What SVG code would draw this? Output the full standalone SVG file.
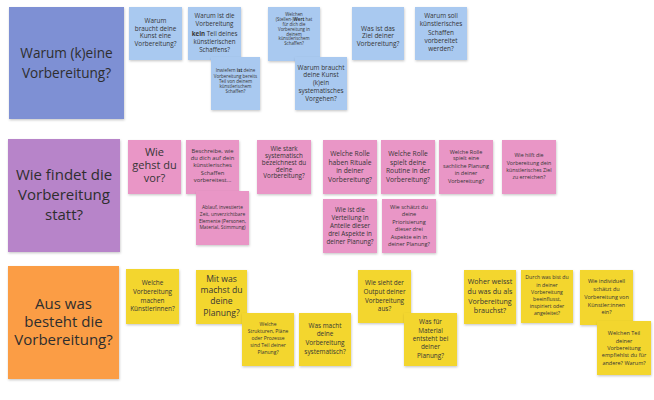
<svg xmlns="http://www.w3.org/2000/svg" width="654" height="400" viewBox="0 0 654 400">
<defs>
<filter id="sh" x="-10%" y="-10%" width="130%" height="130%">
<feDropShadow dx="0.5" dy="1.2" stdDeviation="0.9" flood-color="#000" flood-opacity="0.22"/>
</filter>
<style>
rect{filter:url(#sh)}
text{font-family:"Open Sans","Noto Sans","Liberation Sans",sans-serif;fill:#353535;text-anchor:middle}
.big{fill:#2e2e2e}
.hb{fill:#7e90d4}.b{fill:#a9c9f0}
.hp{fill:#b784c9}.p{fill:#e996c6}
.ho{fill:#fb9d45}.y{fill:#f3d62e}
.k{font-weight:bold}
</style>
</defs>
<rect width="654" height="400" fill="#fff" style="filter:none"/>

<!-- Row 1 -->
<g id="h-warum"><rect class="hb" x="9" y="7" width="115" height="112"/>
<text class="big" font-size="13.6"><tspan x="66.5" y="57.6">Warum (k)eine</tspan><tspan x="66.5" y="77.6">Vorbereitung?</tspan></text></g>

<g id="b1"><rect class="b" x="129" y="7" width="53" height="53"/>
<text font-size="6.4"><tspan x="155.5" y="23">Warum</tspan><tspan x="155.5" y="30.6">braucht deine</tspan><tspan x="155.5" y="38">Kunst eine</tspan><tspan x="155.5" y="45.6">Vorbereitung?</tspan></text></g>

<g id="b2"><rect class="b" x="188" y="7" width="53" height="53"/>
<text font-size="6.2"><tspan x="214.5" y="18">Warum ist die</tspan><tspan x="214.5" y="26.3">Vorbereitung</tspan><tspan x="214.5" y="35.6"><tspan class="k">kein</tspan> Teil deines</tspan><tspan x="214.5" y="44">künstlerischen</tspan><tspan x="214.5" y="51.6">Schaffens?</tspan></text></g>

<g id="b3"><rect class="b" x="211" y="57" width="49" height="53"/>
<text font-size="4.5"><tspan x="235.5" y="72.3">Inwiefern <tspan class="k">ist</tspan> deine</tspan><tspan x="235.5" y="77.6">Vorbereitung bereits</tspan><tspan x="235.5" y="82.6">Teil von deinem</tspan><tspan x="235.5" y="87.6">künstlerischem</tspan><tspan x="235.5" y="92.6">Schaffen?</tspan></text></g>

<g id="b4"><rect class="b" x="268" y="7" width="52" height="54"/>
<text font-size="4.4"><tspan x="294" y="15.6">Welchen</tspan><tspan x="294" y="20.9">(Stellen-)<tspan class="k">Wert</tspan> hat</tspan><tspan x="294" y="25.6">für dich die</tspan><tspan x="294" y="30.6">Vorbereitung in</tspan><tspan x="294" y="35.6">deinem</tspan><tspan x="294" y="40.3">künstlerischem</tspan><tspan x="294" y="44.9">Schaffen?</tspan></text></g>

<g id="b5"><rect class="b" x="295" y="57" width="52" height="53"/>
<text font-size="6.4"><tspan x="321" y="69.6">Warum braucht</tspan><tspan x="321" y="77.3">deine Kunst</tspan><tspan x="321" y="85">(k)ein</tspan><tspan x="321" y="93">systematisches</tspan><tspan x="321" y="100.6">Vorgehen?</tspan></text></g>

<g id="b6"><rect class="b" x="352" y="7" width="52" height="53"/>
<text font-size="6.5"><tspan x="378" y="30.6">Was ist das</tspan><tspan x="378" y="38">Ziel deiner</tspan><tspan x="378" y="45.6">Vorbereitung?</tspan></text></g>

<g id="b7"><rect class="b" x="415" y="7" width="52" height="53"/>
<text font-size="6.4"><tspan x="441" y="18">Warum soll</tspan><tspan x="441" y="26.3">künstlerisches</tspan><tspan x="441" y="34.6">Schaffen</tspan><tspan x="441" y="43">vorbereitet</tspan><tspan x="441" y="51.3">werden?</tspan></text></g>

<!-- Row 2 -->
<g id="h-wie"><rect class="hp" x="8" y="139" width="112" height="113"/>
<text class="big" font-size="15"><tspan x="64" y="180">Wie findet die</tspan><tspan x="64" y="200">Vorbereitung</tspan><tspan x="64" y="220">statt?</tspan></text></g>

<g id="p1"><rect class="p" x="128" y="140" width="53" height="54"/>
<text font-size="11"><tspan x="154.5" y="155.7">Wie</tspan><tspan x="154.5" y="169">gehst du</tspan><tspan x="154.5" y="182.3">vor?</tspan></text></g>

<g id="p2"><rect class="p" x="186" y="140" width="53" height="54"/>
<text font-size="5.8"><tspan x="212.5" y="152.8">Beschreibe, wie</tspan><tspan x="212.5" y="159.8">du dich auf dein</tspan><tspan x="212.5" y="167.1">künstlerisches</tspan><tspan x="212.5" y="174.8">Schaffen</tspan><tspan x="212.5" y="182.1">vorbereitest...</tspan></text></g>

<g id="p3"><rect class="p" x="196" y="191" width="53" height="54"/>
<text font-size="4.9"><tspan x="222.5" y="209.1">Ablauf, investierte</tspan><tspan x="222.5" y="215.8">Zeit, unverzichtbare</tspan><tspan x="222.5" y="222.5">Elemente (Personen,</tspan><tspan x="222.5" y="229.1">Material, Stimmung)</tspan></text></g>

<g id="p4"><rect class="p" x="257" y="140" width="54" height="54"/>
<text font-size="6.3"><tspan x="284" y="150.8">Wie stark</tspan><tspan x="284" y="157.7">systematisch</tspan><tspan x="284" y="164.6">bezeichnest du</tspan><tspan x="284" y="171.5">deine</tspan><tspan x="284" y="178.4">Vorbereitung?</tspan></text></g>

<g id="p5"><rect class="p" x="323" y="140" width="54" height="54"/>
<text font-size="6.7"><tspan x="350" y="155.7">Welche Rolle</tspan><tspan x="350" y="164.7">haben Rituale</tspan><tspan x="350" y="173.1">in deiner</tspan><tspan x="350" y="181.7">Vorbereitung?</tspan></text></g>

<g id="p6"><rect class="p" x="381" y="140" width="54" height="54"/>
<text font-size="6.7"><tspan x="408" y="155.7">Welche Rolle</tspan><tspan x="408" y="164.7">spielt deine</tspan><tspan x="408" y="173.1">Routine in der</tspan><tspan x="408" y="181.7">Vorbereitung?</tspan></text></g>

<g id="p7"><rect class="p" x="439" y="140" width="54" height="54"/>
<text font-size="5.5"><tspan x="466" y="153.7">Welche Rolle</tspan><tspan x="466" y="160.3">spielt eine</tspan><tspan x="466" y="167.7">sachliche Planung</tspan><tspan x="466" y="175.3">in deiner</tspan><tspan x="466" y="183">Vorbereitung?</tspan></text></g>

<g id="p8"><rect class="p" x="502" y="140" width="54" height="54"/>
<text font-size="5.3"><tspan x="529" y="156.9">Wie hilft die</tspan><tspan x="529" y="164.6">Vorbereitung dein</tspan><tspan x="529" y="171.9">künstlerisches Ziel</tspan><tspan x="529" y="179.2">zu erreichen?</tspan></text></g>

<g id="p9"><rect class="p" x="323" y="199" width="54" height="54"/>
<text font-size="6.3"><tspan x="350" y="211.6">Wie ist die</tspan><tspan x="350" y="219.6">Verteilung in</tspan><tspan x="350" y="228">Anteile dieser</tspan><tspan x="350" y="236">drei Aspekte in</tspan><tspan x="350" y="244">deiner Planung?</tspan></text></g>

<g id="p10"><rect class="p" x="382" y="199" width="54" height="54"/>
<text font-size="5.6"><tspan x="409" y="208.7">Wie schätzt du</tspan><tspan x="409" y="216">deine</tspan><tspan x="409" y="223.7">Priorisierung</tspan><tspan x="409" y="231">dieser drei</tspan><tspan x="409" y="238.7">Aspekte ein in</tspan><tspan x="409" y="246">deiner Planung?</tspan></text></g>

<!-- Row 3 -->
<g id="h-aus"><rect class="ho" x="8" y="266" width="111" height="113"/>
<text class="big" font-size="15"><tspan x="63.5" y="309">Aus was</tspan><tspan x="63.5" y="327">besteht die</tspan><tspan x="63.5" y="345">Vorbereitung?</tspan></text></g>

<g id="y1"><rect class="y" x="126" y="269" width="53" height="55"/>
<text font-size="6.4"><tspan x="152.5" y="285">Welche</tspan><tspan x="152.5" y="293.6">Vorbereitung</tspan><tspan x="152.5" y="302.6">machen</tspan><tspan x="152.5" y="311">Künstlerinnen?</tspan></text></g>

<g id="y2"><rect class="y" x="196" y="270" width="51" height="54"/>
<text font-size="8.6"><tspan x="221.5" y="281.8">Mit was</tspan><tspan x="221.5" y="293.4">machst du</tspan><tspan x="221.5" y="304.4">deine</tspan><tspan x="221.5" y="315.8">Planung?</tspan></text></g>

<g id="y3"><rect class="y" x="242" y="313" width="52" height="53"/>
<text font-size="5"><tspan x="268" y="325.5">Welche</tspan><tspan x="268" y="332.5">Strukturen, Pläne</tspan><tspan x="268" y="339.5">oder Prozesse</tspan><tspan x="268" y="346.5">sind Teil deiner</tspan><tspan x="268" y="353.5">Planung?</tspan></text></g>

<g id="y4"><rect class="y" x="299" y="313" width="52" height="53"/>
<text font-size="6.4"><tspan x="325" y="327.6">Was macht</tspan><tspan x="325" y="336">deine</tspan><tspan x="325" y="345">Vorbereitung</tspan><tspan x="325" y="353.6">systematisch?</tspan></text></g>

<g id="y5"><rect class="y" x="358" y="270" width="53" height="53"/>
<text font-size="6.4"><tspan x="384.5" y="285">Wie sieht der</tspan><tspan x="384.5" y="293.6">Output deiner</tspan><tspan x="384.5" y="302.6">Vorbereitung</tspan><tspan x="384.5" y="311">aus?</tspan></text></g>

<g id="y6"><rect class="y" x="404" y="313" width="53" height="53"/>
<text font-size="6.4"><tspan x="430.5" y="323.6">Was für</tspan><tspan x="430.5" y="332.6">Material</tspan><tspan x="430.5" y="341">entsteht bei</tspan><tspan x="430.5" y="349.3">deiner</tspan><tspan x="430.5" y="358.3">Planung?</tspan></text></g>

<g id="y7"><rect class="y" x="464" y="270" width="52" height="54"/>
<text font-size="7.1"><tspan x="490" y="283.9">Woher weisst</tspan><tspan x="490" y="293.9">du was du als</tspan><tspan x="490" y="303.6">Vorbereitung</tspan><tspan x="490" y="312.9">brauchst?</tspan></text></g>

<g id="y8"><rect class="y" x="521" y="270" width="52" height="53"/>
<text font-size="5.2"><tspan x="547" y="278.9">Durch was bist du</tspan><tspan x="547" y="286.6">in deiner</tspan><tspan x="547" y="293.9">Vorbereitung</tspan><tspan x="547" y="301.2">beeinflusst,</tspan><tspan x="547" y="308.2">inspiriert oder</tspan><tspan x="547" y="314.9">angeleitet?</tspan></text></g>

<g id="y9"><rect class="y" x="580" y="270" width="53" height="55"/>
<text font-size="5.5"><tspan x="606.5" y="283.3">Wie individuell</tspan><tspan x="606.5" y="291.3">schätzt du</tspan><tspan x="606.5" y="299">Vorbereitung von</tspan><tspan x="606.5" y="306.7">Künstler:innen</tspan><tspan x="606.5" y="314">ein?</tspan></text></g>

<g id="y10"><rect class="y" x="597" y="321" width="54" height="54"/>
<text font-size="5.5"><tspan x="624" y="335">Welchen Teil</tspan><tspan x="624" y="342.7">deiner</tspan><tspan x="624" y="350">Vorbereitung</tspan><tspan x="624" y="357.3">empfiehlst du für</tspan><tspan x="624" y="364.7">andere? Warum?</tspan></text></g>
</svg>
